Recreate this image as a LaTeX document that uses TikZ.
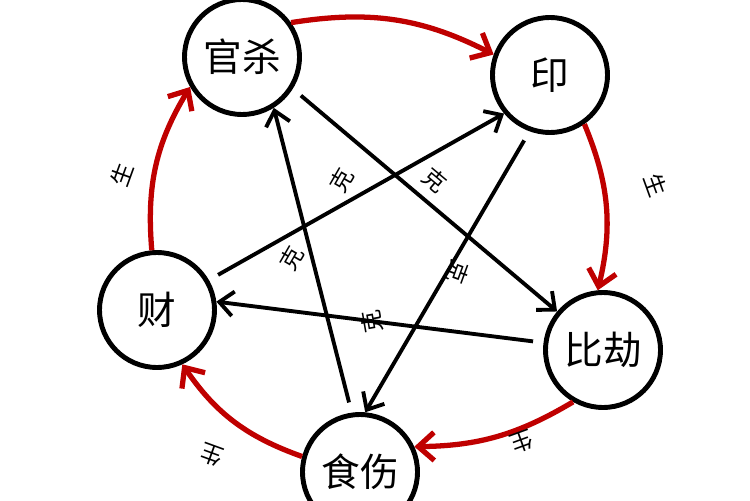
\documentclass[tikz,border=0pt]{standalone}
\usepackage{fontspec}
\newfontfamily\cjk{Noto Sans CJK SC}
\usetikzlibrary{arrows.meta}
\tikzset{
  wx/.style={circle, draw, line width=2.8pt, minimum size=2.3cm, font=\cjk\fontsize{22}{22}\selectfont},
  sheng/.style={draw=red!75!black, line width=3pt, -{Straight Barb[length=9pt,width=16pt]}},
  ke/.style={draw, line width=2.2pt, shorten <=6pt, -{Straight Barb[length=8pt,width=14pt]}},
  lbl/.style={font=\cjk\fontsize{13}{13}\selectfont}
}
\begin{document}
\begin{tikzpicture}[x=0.02cm,y=-0.02cm]
  \useasboundingbox (0,0) rectangle (750,500);
  % five circles
  \node[wx] (gs) at (242,57) {官杀};
  \node[wx] (yin) at (550,75) {印};
  \node[wx] (bj) at (603,350) {比劫};
  \node[wx] (ss) at (360,472) {食伤};
  \node[wx] (cai) at (157,310) {财};
  % generating cycle
  \draw[sheng] (gs.35) to[bend left=18] (yin.160);
  \draw[sheng] (yin.-55) to[bend left=18] (bj.95);
  \draw[sheng] (bj.-120) to[bend left=15] (ss.25);
  \draw[sheng] (ss.165) to[bend left=18] (cai.-65);
  \draw[sheng] (cai.95) to[bend left=18] (gs.-150);
  \node[lbl, rotate=70] (s1) at (122,175) {生};
  \node[lbl, rotate=-70] (s2) at (656,185) {生};
  \node[lbl, rotate=200] (s3) at (522,442) {生};
  \node[lbl, rotate=160] (s4) at (212,455) {生};
  % controlling star
  \draw[ke] (gs.-32) -- (bj.140);
  \draw[ke] (bj.173) -- (cai.8);
  \draw[ke] (cai.30) -- (yin.-140);
  \draw[ke] (yin.-110) -- (ss.85);
  \draw[ke] (ss.98) -- (gs.-58);
  \node[lbl, rotate=60] (k1) at (342,180) {克};
  \node[lbl, rotate=-40] (k2) at (435,180) {克};
  \node[lbl, rotate=60] (k3) at (292,258) {克};
  \node[lbl, rotate=-110] (k4) at (458,272) {克};
  \node[lbl, rotate=100] (k5) at (372,322) {克};
\end{tikzpicture}
\end{document}
